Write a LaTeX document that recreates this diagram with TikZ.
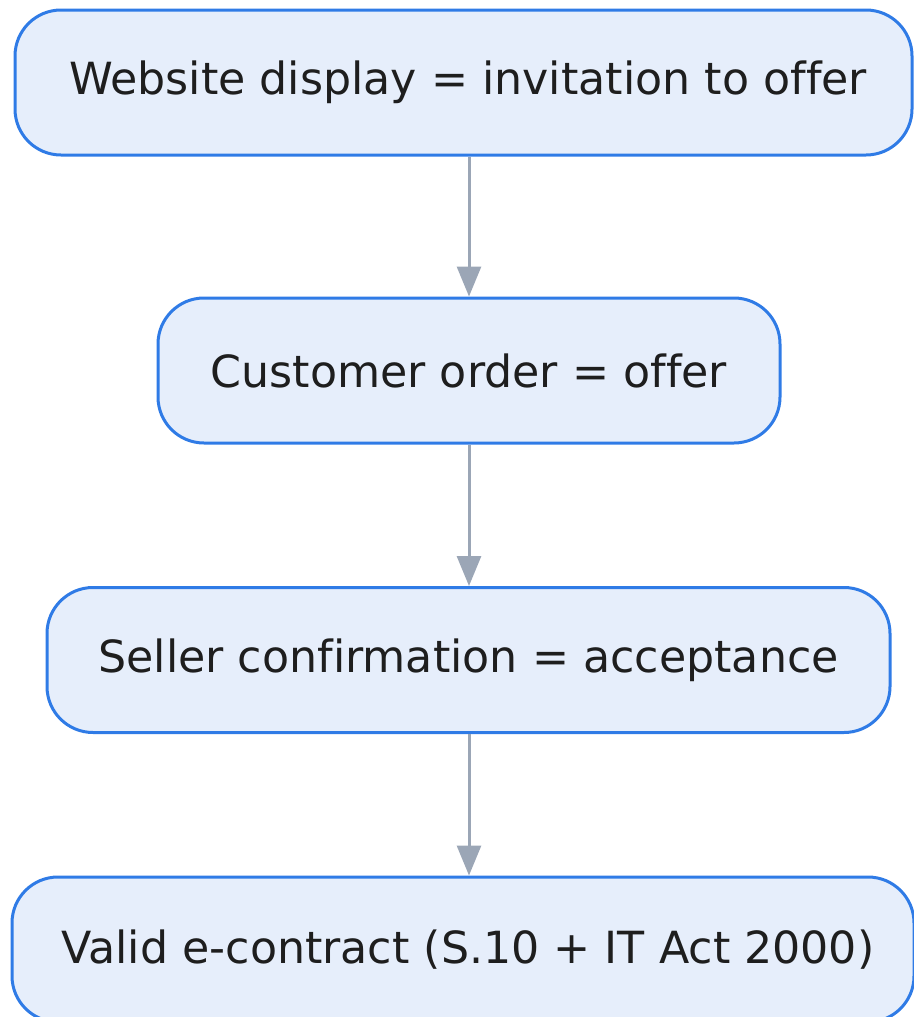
\documentclass[tikz,border=0pt]{standalone}
\usepackage{fontspec}
\setmainfont[Ligatures={NoCommon}]{DejaVu Sans}
\usetikzlibrary{positioning,arrows.meta}
\definecolor{stageblue}{HTML}{2F7BE6}
\definecolor{stagefill}{HTML}{E6EEFB}
\definecolor{flowgray}{HTML}{9BA6B6}
\definecolor{stagetext}{HTML}{1E1E1E}
\begin{document}
\begin{tikzpicture}[x=1pt,y=-1pt,
    stage/.style={draw=stageblue,fill=stagefill,line width=3pt,rounded corners=46pt,
      minimum height=145pt,inner xsep=0pt,text=stagetext,font=\fontsize{44.3}{52}\selectfont},
    flow/.style={draw=flowgray,line width=3pt,-{Triangle[length=30pt,width=24pt]}}]
  \useasboundingbox (0,0) rectangle (913,1017);
  \draw
    (463.5,82.5) node[stage,minimum width=897pt] (website){\hspace{9pt}Website display = invitation to offer}
    (469,370.5) node[stage,minimum width=622pt] (order){Customer order = offer}
    (468.5,660) node[stage,minimum width=843pt] (confirm){Seller confirmation = acceptance}
    (463,949.5) node[stage,minimum width=902pt] (contract){\hspace{10pt}Valid e-contract (S.10 + IT Act 2000)};
  \begin{scope}[flow]
    \draw (website.south -| order.north) to (order.north);
    \draw (order) to (confirm.north -| order.south);
    \draw (confirm.south -| order.south) to (contract.north -| order.south);
  \end{scope}
\end{tikzpicture}
\end{document}
